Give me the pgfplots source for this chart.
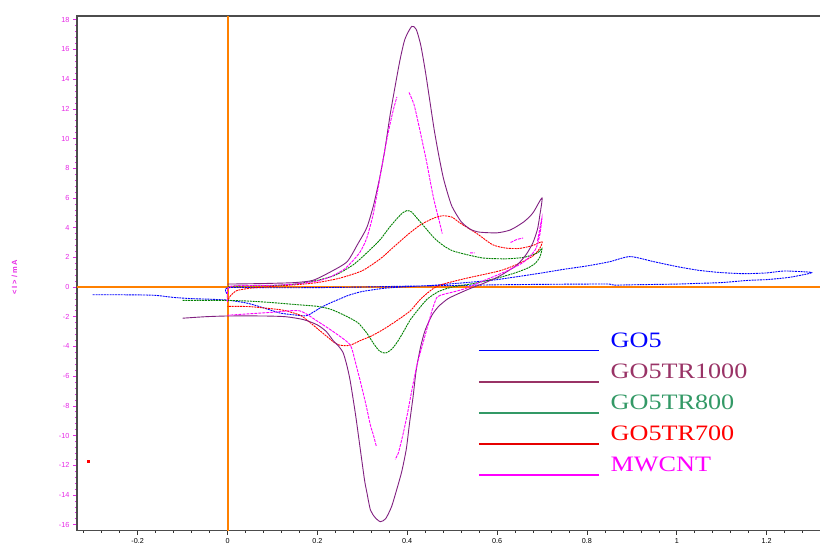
\documentclass[border=0pt]{standalone}
\usepackage{pgfplots}
\pgfplotsset{compat=1.18}
\usepackage{fontspec}
\setmainfont{Liberation Sans}
\newfontfamily\timesfont[FakeStretch=1.19]{Liberation Serif}
\definecolor{cvpurple}{RGB}{128,32,128}
\definecolor{cvgreen}{RGB}{0,128,0}
\definecolor{cvred}{RGB}{255,0,0}
\definecolor{cvblue}{RGB}{0,0,255}
\definecolor{cvmag}{RGB}{255,0,255}
\definecolor{lgpurple}{RGB}{153,51,102}
\definecolor{lggreen}{RGB}{51,153,102}
\definecolor{lgred}{RGB}{230,0,0}
\definecolor{cvorange}{RGB}{255,128,0}
\definecolor{ticmag}{RGB}{230,40,230}
\begin{document}
\begin{tikzpicture}
\begin{axis}[
  scale only axis,
  width=745.8pt, height=514.6pt,
  xmin=-0.335, xmax=1.325, ymin=-16.4, ymax=18.25,
  xtick={-0.2,0,0.2,0.4,0.6,0.8,1,1.2},
  minor xtick={-0.32,-0.28,...,1.32},
  ytick={-16,-14,-12,-10,-8,-6,-4,-2,0,2,4,6,8,10,12,14,16,18},
  minor ytick={-16,-15.6,...,18.1},
  xtick pos=left, ytick pos=left,
  tick align=outside,
  major tick length=4pt, minor tick length=2pt,
  x tick style={black!80, line width=0.6pt},
  y tick style={ticmag, line width=0.6pt},
  axis line style={draw=black!70, line width=1.2pt},
  /pgf/number format/assume math mode=true,
  yticklabel style={text=ticmag, font=\fontsize{7.3}{8}\selectfont},
  xticklabel style={text=black, font=\fontsize{7.2}{8}\selectfont},
  unbounded coords=jump,
  legend cell align=left,
  legend style={at={(axis cs:0.558,-3.098)}, anchor=north west, draw=none, fill=none,
    inner sep=0pt, outer sep=0pt, row sep=12.6pt, column sep=11pt,
    nodes={inner sep=0pt, text height=14pt, text depth=0pt},
    font=\timesfont\fontsize{22}{24}\selectfont},
]
\coordinate (ll) at (rel axis cs:0,0);
% reference lines
\addplot[cvorange, line width=1.5pt, forget plot] coordinates {(-0.335,0) (1.325,0)};
\addplot[cvorange, line width=1.5pt, forget plot] coordinates {(0.001,-16.4) (0.001,18.25)};
% GO5
\addplot[cvblue, line width=0.9pt, smooth, tension=0.4, dash pattern=on 2pt off 0.8pt, forget plot] coordinates {
(-0.30,-0.52) (-0.25,-0.52) (-0.2,-0.53) (-0.16,-0.56) (-0.12,-0.70) (-0.08,-0.78) (-0.04,-0.82) (0,-0.88)
(0.043,-1.08) (0.08,-1.4) (0.117,-1.75) (0.15,-1.88) (0.177,-1.92) (0.206,-1.41) (0.228,-1.08) (0.25,-0.8)
(0.27,-0.55) (0.3,-0.3) (0.35,-0.08) (0.4,0.02) (0.45,0.1) (0.5,0.22) (0.55,0.35) (0.6,0.5) (0.65,0.72)
(0.7,0.95) (0.75,1.2) (0.8,1.42) (0.85,1.7) (0.896,2.05) (0.95,1.7) (1.0,1.38) (1.05,1.12) (1.1,0.97)
(1.15,0.9) (1.2,0.95) (1.24,1.08) (1.296,1.0) (1.296,0.92) (1.25,0.65) (1.2,0.5) (1.16,0.45) (1.1,0.3)
(1.05,0.25) (1.0,0.2) (0.9,0.15) (0.86,0.13) (0.85,0.2) (0.8,0.2) (0.7,0.18) (0.6,0.15) (0.5,0.1)
(0.4,0.06) (0.3,0.0) (0.2,-0.04) (0.1,-0.05) (0.0,-0.05) (0,-0.5)};
% GO5TR700
\addplot[cvred, line width=0.9pt, smooth, tension=0.4, dash pattern=on 2pt off 0.8pt, forget plot] coordinates {
(0,-1.0) (0.005,-0.65) (0.02,-0.25) (0.05,-0.08) (0.09,0.02) (0.15,0.15) (0.2,0.3) (0.25,0.6) (0.3,1.1)
(0.34,1.9) (0.37,2.7) (0.4,3.5) (0.43,4.2) (0.46,4.65) (0.48,4.8) (0.5,4.7) (0.518,4.3) (0.555,3.6)
(0.59,2.85) (0.62,2.62) (0.65,2.6) (0.68,2.8) (0.70,3.05)
(0.695,2.6) (0.68,2.1) (0.65,1.6) (0.607,1.1) (0.533,0.6) (0.48,0.2) (0.458,-0.1) (0.43,-0.8) (0.407,-1.6)
(0.375,-2.3) (0.347,-2.85) (0.32,-3.3) (0.296,-3.6) (0.275,-3.9) (0.262,-3.95) (0.248,-3.9) (0.236,-3.7)
(0.22,-3.3) (0.2,-2.8) (0.18,-2.3) (0.162,-1.9) (0.13,-1.6) (0.11,-1.5) (0.05,-1.32) (0,-1.3)};
% GO5TR800
\addplot[cvgreen, line width=0.9pt, smooth, tension=0.4, dash pattern=on 2pt off 0.8pt, forget plot] coordinates {
(0,0.05) (0.1,0.1) (0.15,0.2) (0.2,0.45) (0.24,0.8) (0.28,1.5) (0.31,2.3) (0.34,3.2) (0.36,4.0) (0.38,4.7)
(0.39,5.0) (0.40,5.15) (0.41,5.05) (0.42,4.7) (0.44,4.0) (0.46,3.3) (0.48,2.8) (0.5,2.45) (0.53,2.2)
(0.57,1.95) (0.62,1.9) (0.66,2.0) (0.69,2.3) (0.70,2.6)
(0.695,2.0) (0.685,1.6) (0.67,1.3) (0.64,0.95) (0.6,0.6) (0.55,0.25) (0.50,0.0) (0.47,-0.3) (0.445,-0.8)
(0.425,-1.5) (0.407,-2.2) (0.39,-3.1) (0.378,-3.7) (0.365,-4.2) (0.351,-4.45) (0.338,-4.3) (0.325,-3.8)
(0.31,-3.1) (0.29,-2.4) (0.26,-1.9) (0.23,-1.5) (0.2,-1.3) (0.16,-1.2) (0.1,-1.05) (0.05,-0.95) (0,-0.9)
(-0.05,-0.9) (-0.1,-0.9)};
% GO5TR1000
\addplot[cvpurple, line width=0.9pt, smooth, tension=0.4, forget plot] coordinates {
(0,0.2) (0.05,0.22) (0.1,0.25) (0.15,0.3) (0.19,0.45) (0.228,1.0) (0.266,1.7) (0.29,2.9) (0.31,4.0)
(0.325,5.5) (0.339,7.4) (0.35,9.2) (0.362,11.6) (0.373,13.5) (0.384,15.3) (0.395,16.7) (0.41,17.55)
(0.42,17.35) (0.43,16.3) (0.44,14.6) (0.45,12.6) (0.46,10.6) (0.47,8.9) (0.48,7.4) (0.49,6.3) (0.50,5.4)
(0.52,4.4) (0.54,3.9) (0.56,3.7) (0.60,3.65) (0.63,3.85) (0.66,4.4) (0.68,5.0) (0.70,6.0)
(0.695,4.8) (0.69,3.9) (0.68,3.0) (0.665,2.2) (0.645,1.5) (0.62,1.0) (0.60,0.65) (0.57,0.25) (0.54,-0.1)
(0.51,-0.5) (0.49,-0.8) (0.47,-1.3) (0.455,-1.9) (0.44,-2.9) (0.43,-4.0) (0.42,-5.6) (0.413,-7.4)
(0.405,-9.2) (0.398,-10.9) (0.388,-12.4) (0.377,-13.6) (0.365,-14.8) (0.352,-15.6) (0.34,-15.8)
(0.328,-15.5) (0.318,-15.0) (0.31,-13.8) (0.305,-13.0) (0.295,-10.8) (0.285,-8.6) (0.273,-6.3)
(0.265,-5.2) (0.257,-4.4) (0.245,-3.9) (0.235,-3.6) (0.22,-3.0) (0.20,-2.55) (0.17,-2.2) (0.13,-2.0)
(0.08,-1.95) (0.0,-1.95) (-0.05,-2.0) (-0.10,-2.1)};
% MWCNT
\addplot[cvmag, line width=0.9pt, smooth, tension=0.4, dash pattern=on 3pt off 1pt, forget plot] coordinates {
(0,-1.0) (0.003,0.0) (0.05,0.1) (0.1,0.12) (0.15,0.2) (0.2,0.4) (0.23,0.7) (0.26,1.2) (0.28,1.8)
(0.296,2.4) (0.31,3.3) (0.325,5.0) (0.34,7.5) (0.355,10.0) (0.368,11.8) (0.377,12.8) (nan,nan)
(0.404,13.1) (0.415,12.3) (0.425,11.0) (0.435,9.6) (0.444,8.3) (0.452,7.0) (0.46,5.8) (0.47,4.6)
(0.478,3.6) (nan,nan) (0.54,2.3) (0.55,2.3) (nan,nan) (0.63,3.0) (0.644,3.2) (0.658,3.3) (nan,nan)
(0.69,3.1) (0.70,4.7) (0.695,3.5) (0.685,2.5) (0.66,1.7) (0.63,1.2) (0.6,0.8) (0.56,0.3) (0.53,-0.1)
(0.5,-0.35) (0.48,-0.5) (0.466,-0.7) (0.455,-1.6) (0.444,-2.8) (0.433,-4.0) (0.422,-5.2) (0.41,-7.0)
(0.40,-8.6) (0.39,-10.0) (0.38,-11.2) (0.373,-11.6) (nan,nan) (0.331,-10.7) (0.325,-10.0) (0.318,-9.3)
(0.308,-7.9) (0.296,-6.4) (0.285,-5.1) (0.273,-3.9) (0.24,-3.1) (0.2,-2.3) (0.16,-1.6) (0.1,-1.7)
(0.05,-1.8) (0,-1.9)};
% stray point
\addplot[only marks, mark=square*, mark size=1pt, cvred, forget plot] coordinates {(-0.31,-11.7)};
% legend
\addlegendimage{legend image code/.code={\draw[cvblue, line width=1.5pt] (0pt,-10.7pt) -- (120pt,-10.7pt);}}
\addlegendentry{\textcolor{cvblue}{GO5}}
\addlegendimage{legend image code/.code={\draw[lgpurple, line width=1.5pt] (0pt,-10.7pt) -- (120pt,-10.7pt);}}
\addlegendentry{\textcolor{lgpurple}{GO5TR1000}}
\addlegendimage{legend image code/.code={\draw[lggreen, line width=1.5pt] (0pt,-10.7pt) -- (120pt,-10.7pt);}}
\addlegendentry{\textcolor{lggreen}{GO5TR800}}
\addlegendimage{legend image code/.code={\draw[lgred, line width=1.5pt] (0pt,-10.7pt) -- (120pt,-10.7pt);}}
\addlegendentry{\textcolor{cvred}{GO5TR700}}
\addlegendimage{legend image code/.code={\draw[cvmag, line width=1.5pt] (0pt,-10.7pt) -- (120pt,-10.7pt);}}
\addlegendentry{\textcolor{cvmag}{MWCNT}}
\end{axis}
\node[rotate=90, text=ticmag, font=\bfseries\fontsize{7.5}{8}\selectfont\addfontfeatures{LetterSpace=25}]
  at ([shift={(-62.5pt,253.5pt)}]ll) {<I>/mA};
\pgfresetboundingbox
\path ([shift={(-77pt,-17.4pt)}]ll) rectangle ([shift={(743pt,530.6pt)}]ll);
\end{tikzpicture}
\end{document}
